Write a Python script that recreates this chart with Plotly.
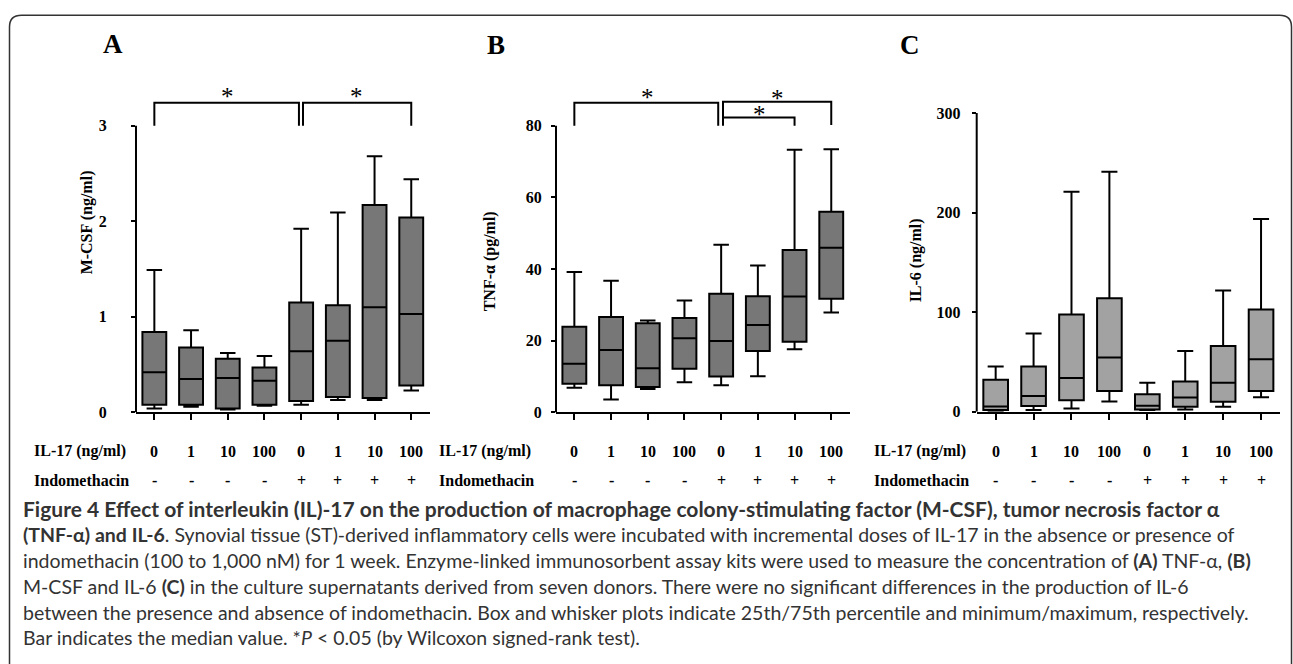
import plotly.graph_objects as go

# ---------------- data ----------------
doses = ["0", "1", "10", "100", "0", "1", "10", "100"]
indo = ["-", "-", "-", "-", "+", "+", "+", "+"]
pos = list(range(8))

# Panel A: M-CSF (ng/ml)
a_min = [0.04, 0.06, 0.03, 0.07, 0.08, 0.13, 0.13, 0.23]
a_q1 = [0.08, 0.08, 0.04, 0.08, 0.12, 0.16, 0.15, 0.28]
a_med = [0.42, 0.35, 0.36, 0.33, 0.64, 0.75, 1.10, 1.03]
a_q3 = [0.84, 0.68, 0.56, 0.47, 1.15, 1.12, 2.17, 2.04]
a_max = [1.49, 0.86, 0.62, 0.59, 1.92, 2.09, 2.68, 2.44]

# Panel B: TNF-alpha (pg/ml)
b_min = [6.9, 3.6, 6.5, 8.4, 7.6, 10.1, 17.6, 27.9]
b_q1 = [8.0, 7.6, 7.1, 12.2, 10.0, 17.1, 19.7, 31.7]
b_med = [13.6, 17.4, 12.3, 20.7, 19.9, 24.4, 32.3, 45.9]
b_q3 = [23.9, 26.6, 24.9, 26.3, 33.1, 32.4, 45.3, 56.0]
b_max = [39.2, 36.7, 25.6, 31.2, 46.8, 41.0, 73.3, 73.4]

# Panel C: IL-6 (ng/ml)
c_min = [1.0, 1.6, 3.3, 10.2, 1.6, 2.3, 4.9, 14.5]
c_q1 = [1.6, 5.6, 11.5, 20.8, 2.3, 4.9, 9.9, 20.8]
c_med = [5.3, 15.8, 33.9, 54.4, 5.9, 14.2, 29.0, 52.7]
c_q3 = [32.0, 45.5, 97.5, 114.0, 17.5, 30.3, 65.9, 102.5]
c_max = [45.5, 78.4, 220.8, 240.9, 29.0, 61.0, 121.6, 193.4]

panel_letters = ["A", "B", "C"]
y_titles = ["M-CSF (ng/ml)", "TNF-\u03b1 (pg/ml)", "IL-6 (ng/ml)"]
y_ticks = [[0, 1, 2, 3], [0, 20, 40, 60, 80], [0, 100, 200, 300]]
row_labels = ["IL-17 (ng/ml)", "Indomethacin"]

# significance brackets: (panel, x_start, x_end, y_top, y_leg)
brackets = [
    (0, 0.0, 3.94, 3.24, 3.0),
    (0, 4.05, 7.0, 3.24, 3.0),
    (1, 0.0, 3.92, 86.4, 80.0),
    (1, 4.05, 7.0, 86.7, 80.2),
    (1, 4.05, 6.0, 82.3, 80.0),
]
stars = [(0, 2.0, 3.3), (0, 5.5, 3.3), (1, 2.0, 87.9), (1, 5.54, 87.6), (1, 5.05, 83.0)]

caption_lines = [
    "<b>Figure 4 Effect of interleukin (IL)-17 on the production of macrophage colony-stimulating factor (M-CSF), tumor necrosis factor \u03b1</b>",
    "<b>(TNF-\u03b1) and IL-6</b>. Synovial tissue (ST)-derived inflammatory cells were incubated with incremental doses of IL-17 in the absence or presence of",
    "indomethacin (100 to 1,000 nM) for 1 week. Enzyme-linked immunosorbent assay kits were used to measure the concentration of <b>(A)</b> TNF-\u03b1, <b>(B)</b>",
    "M-CSF and IL-6 <b>(C)</b> in the culture supernatants derived from seven donors. There were no significant differences in the production of IL-6",
    "between the presence and absence of indomethacin. Box and whisker plots indicate 25th/75th percentile and minimum/maximum, respectively.",
    "Bar indicates the median value. *<i>P</i> &lt; 0.05 (by Wilcoxon signed-rank test).",
]
caption_sizes = [21, 19.5, 19.5, 19.5, 19.5, 19.5]

# ---------------- layout geometry ----------------
W, H = 1293, 664
SERIF = "Liberation Serif"
x_domains = [[0.10518, 0.33225], [0.43001, 0.65708], [0.75538, 0.98995]]
y_domains = [[0.37500, 0.87726], [0.37500, 0.88464], [0.37605, 0.83780]]
y_ranges = [[0, 3.4], [0, 92], [0, 300]]
y_axis_top = [3, 80, 300]
tick_standoff = [21, 6, 8]
fills = ["#777777", "#777777", "#a2a2a2"]
ytitle_x = [87, 490, 916]
ytitle_y = [220, 260, 259]
letter_pos = [(113, 37), (496, 38), (910, 38)]
rowlabel_x = [32, 437, 872]
row_y = [455, 485]

stats = [
    (a_min, a_q1, a_med, a_q3, a_max),
    (b_min, b_q1, b_med, b_q3, b_max),
    (c_min, c_q1, c_med, c_q3, c_max),
]

fig = go.Figure()
annotations = []
shapes = []

for i in range(3):
    xa = "x" if i == 0 else f"x{i+1}"
    ya = "y" if i == 0 else f"y{i+1}"
    mn, q1, md, q3, mx = stats[i]
    fig.add_trace(go.Box(
        x=pos, q1=q1, median=md, q3=q3, lowerfence=mn, upperfence=mx,
        xaxis=xa, yaxis=ya, width=0.65, whiskerwidth=0.65,
        fillcolor=fills[i], line=dict(color="black", width=2),
        boxpoints=False, showlegend=False, hoverinfo="skip",
    ))
    ax_key = "xaxis" if i == 0 else f"xaxis{i+1}"
    ay_key = "yaxis" if i == 0 else f"yaxis{i+1}"
    fig.layout[ax_key] = dict(
        domain=x_domains[i], range=[-0.5, 7.5], anchor=ya,
        showline=True, linecolor="black", linewidth=2,
        ticks="outside", ticklen=6, tickwidth=2, tickcolor="black",
        tickvals=pos, showticklabels=False, showgrid=False, zeroline=False,
    )
    fig.layout[ay_key] = dict(
        domain=y_domains[i], range=y_ranges[i], anchor=xa,
        showline=False, ticks="outside", ticklen=4, tickwidth=2, tickcolor="black",
        tickvals=y_ticks[i], ticklabelstandoff=tick_standoff[i],
        tickfont=dict(family=SERIF, size=16, color="black", weight="bold"),
        showgrid=False, zeroline=False,
    )
    # y axis line only up to the top tick
    shapes.append(dict(type="line", xref=f"{xa} domain", yref=ya,
                       x0=0, x1=0, y0=0, y1=y_axis_top[i],
                       line=dict(color="black", width=2)))
    d0, d1 = x_domains[i]
    # row labels and category labels
    for lbl, vals, ypx in zip(row_labels, [doses, indo], row_y):
        annotations.append(dict(text=f"<b>{lbl}</b>", xref="paper", yref="paper",
                                x=rowlabel_x[i] / W, y=1 - ypx / H, xanchor="left", yanchor="middle",
                                showarrow=False, font=dict(family=SERIF, size=16, color="black")))
        for k, v in enumerate(vals):
            xp = d0 + (pos[k] + 0.5) / 8.0 * (d1 - d0)
            annotations.append(dict(text=f"<b>{v}</b>", xref="paper", yref="paper",
                                    x=xp, y=1 - ypx / H, xanchor="center", yanchor="middle",
                                    showarrow=False, font=dict(family=SERIF, size=16, color="black")))
    # y title
    annotations.append(dict(text=f"<b>{y_titles[i]}</b>", xref="paper", yref="paper",
                            x=ytitle_x[i] / W, y=1 - ytitle_y[i] / H, textangle=-90,
                            xanchor="center", yanchor="middle", showarrow=False,
                            font=dict(family=SERIF, size=16, color="black")))
    # panel letter
    lx, ly = letter_pos[i]
    annotations.append(dict(text=f"<b>{panel_letters[i]}</b>", xref="paper", yref="paper",
                            x=lx / W, y=1 - ly / H, xanchor="center", yanchor="middle",
                            showarrow=False, font=dict(family=SERIF, size=27, color="black")))

# brackets
for p, x0, x1, yt, yl in brackets:
    xa = "x" if p == 0 else f"x{p+1}"
    ya = "y" if p == 0 else f"y{p+1}"
    shapes.append(dict(type="path", xref=xa, yref=ya,
                       path=f"M {x0},{yl} L {x0},{yt} L {x1},{yt} L {x1},{yl}",
                       line=dict(color="black", width=2)))
for p, sx, sy in stars:
    xa = "x" if p == 0 else f"x{p+1}"
    ya = "y" if p == 0 else f"y{p+1}"
    annotations.append(dict(text="*", xref=xa, yref=ya, x=sx, y=sy,
                            xanchor="center", yanchor="middle", showarrow=False,
                            font=dict(family=SERIF, size=25, color="black")))

# caption
for j, line in enumerate(caption_lines):
    annotations.append(dict(text=line, xref="paper", yref="paper",
                            x=21 / W, y=1 - (514 + 26.5 * j) / H,
                            xanchor="left", yanchor="middle", showarrow=False,
                            font=dict(family="Lato", size=caption_sizes[j], color="#333333")))

# outer frame with rounded top corners
x0f, x1f, ytf, ybf, r = 9.5, 1291.5, 7.5, 700, 12
def px(x):
    return x / W
def py(y):
    return 1 - y / H
frame = (f"M {px(x0f)},{py(ybf)} L {px(x0f)},{py(ytf + r)} "
         f"Q {px(x0f)},{py(ytf)} {px(x0f + r)},{py(ytf)} "
         f"L {px(x1f - r)},{py(ytf)} Q {px(x1f)},{py(ytf)} {px(x1f)},{py(ytf + r)} "
         f"L {px(x1f)},{py(ybf)}")
shapes.append(dict(type="path", xref="paper", yref="paper", path=frame,
                   line=dict(color="#333333", width=1.5)))

fig.update_layout(
    width=W, height=H, margin=dict(l=0, r=0, t=0, b=0),
    paper_bgcolor="white", plot_bgcolor="white",
    annotations=annotations, shapes=shapes, showlegend=False,
)

fig.write_html("out.html")
